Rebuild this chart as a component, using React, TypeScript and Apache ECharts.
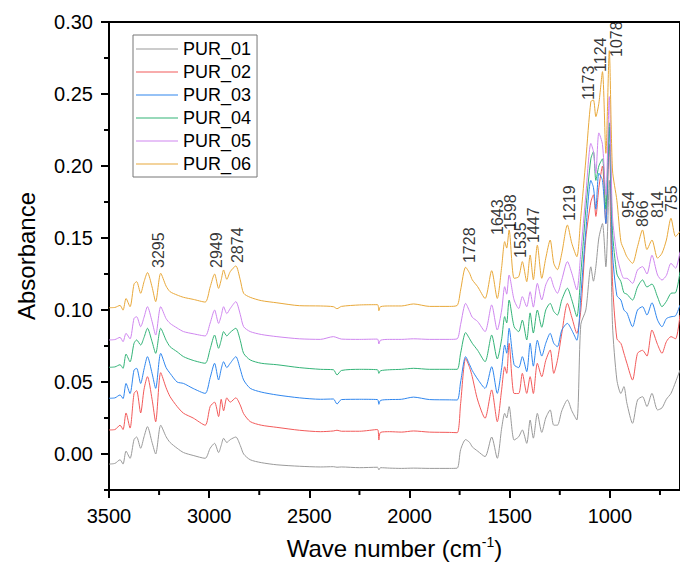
import React, { useEffect, useRef } from "react";
import * as echarts from "echarts";

// Wave numbers (cm-1) sampled along the spectra
const wavenumbers = [
  3500, 3470, 3445, 3430, 3415, 3395, 3375, 3362, 3342, 3325, 3308, 3285, 3267, 3242, 3215, 3195,
  3160, 3128, 3080, 3020, 2995, 2973, 2953, 2940, 2928, 2912, 2895, 2867, 2845, 2828, 2795, 2740,
  2662, 2550, 2445, 2380, 2362, 2340, 2250, 2160, 2153, 2145, 2100, 2040, 1980, 1900, 1800, 1762,
  1745, 1720, 1700, 1687, 1660, 1623, 1590, 1562, 1540, 1525, 1515, 1503, 1478, 1455, 1437, 1415,
  1398, 1382, 1362, 1340, 1320, 1298, 1280, 1262, 1240, 1212, 1190, 1165, 1145, 1120, 1095, 1082,
  1070, 1055, 1037, 1020, 1003, 987, 965, 945, 930, 915, 887, 862, 837, 815, 790, 762,
  740, 718, 695, 672, 650,
];

const pur01 = [
  -0.007, -0.0065, -0.004, -0.007, 0.002, -0.003, 0.01, 0.0118, 0.004, 0.012, 0.019, 0.008, 0.0, 0.02, 0.012, 0.008,
  0.004, 0.001, -0.001, -0.003, 0.004, 0.0074, 0.001, 0.006, 0.0109, 0.008, 0.01, 0.0118, 0.006, 0.0, -0.004, -0.006,
  -0.0075, -0.0085, -0.009, -0.0088, -0.0092, -0.009, -0.0095, -0.0092, -0.011, -0.0095, -0.0098, -0.01, -0.0098, -0.01, -0.01, -0.0098,
  0.003, 0.01, 0.008, 0.005, 0.002, -0.0018, 0.0118, -0.003, 0.018, 0.0282, 0.025, 0.0329, 0.0097, 0.012, 0.0167, 0.0074,
  0.0236, 0.011, 0.0282, 0.015, 0.025, 0.0306, 0.02, 0.02, 0.03, 0.0375, 0.03, 0.0236, 0.09, 0.1, 0.13, 0.12,
  0.13, 0.15, 0.16, 0.13, 0.19, 0.09, 0.0514, 0.042, 0.0468, 0.0352, 0.0213, 0.0375, 0.0398, 0.033, 0.0421, 0.0306,
  0.032, 0.038, 0.0421, 0.05, 0.0583,
];

const pur02 = [
  0.0167, 0.017, 0.02, 0.017, 0.0285, 0.018, 0.042, 0.044, 0.0285, 0.045, 0.0537, 0.038, 0.0224, 0.0565, 0.046, 0.0398,
  0.033, 0.0283, 0.025, 0.02, 0.033, 0.036, 0.026, 0.038, 0.03, 0.039, 0.036, 0.039, 0.034, 0.028, 0.0225, 0.02,
  0.0185, 0.0165, 0.0155, 0.016, 0.0165, 0.0158, 0.0158, 0.017, 0.0097, 0.015, 0.0155, 0.0152, 0.016, 0.0152, 0.015, 0.0148,
  0.035, 0.0664, 0.06, 0.0537, 0.0375, 0.0248, 0.0445, 0.0224, 0.045, 0.0606, 0.056, 0.0769, 0.042, 0.042, 0.056, 0.0421,
  0.0537, 0.042, 0.063, 0.0537, 0.065, 0.0722, 0.056, 0.065, 0.0838, 0.1046, 0.095, 0.0838, 0.1, 0.15, 0.175, 0.18,
  0.165, 0.185, 0.2, 0.16, 0.215, 0.12, 0.08, 0.0768, 0.07, 0.063, 0.0514, 0.0699, 0.072, 0.068, 0.0861, 0.076,
  0.0699, 0.078, 0.0815, 0.08, 0.0965,
];

const pur03 = [
  0.0387, 0.039, 0.041, 0.0385, 0.049, 0.042, 0.0583, 0.0595, 0.049, 0.059, 0.0676, 0.056, 0.0456, 0.0699, 0.06, 0.056,
  0.05, 0.049, 0.0455, 0.0421, 0.053, 0.063, 0.0514, 0.059, 0.0641, 0.06, 0.063, 0.0676, 0.059, 0.0514, 0.0456, 0.043,
  0.041, 0.039, 0.038, 0.0382, 0.0347, 0.0378, 0.038, 0.0378, 0.0345, 0.0372, 0.0378, 0.038, 0.0395, 0.0378, 0.0376, 0.0375,
  0.05, 0.0676, 0.062, 0.058, 0.052, 0.0456, 0.0606, 0.0421, 0.06, 0.0757, 0.07, 0.0873, 0.062, 0.06, 0.0676, 0.0572,
  0.0769, 0.061, 0.079, 0.068, 0.0769, 0.0838, 0.0769, 0.0745, 0.086, 0.0907, 0.086, 0.079, 0.11, 0.155, 0.19, 0.185,
  0.17, 0.195, 0.19, 0.16, 0.227, 0.14, 0.11, 0.1069, 0.1, 0.098, 0.0884, 0.1, 0.1023, 0.0965, 0.105, 0.093,
  0.0884, 0.094, 0.0953, 0.096, 0.1035,
];

const pur04 = [
  0.0602, 0.0605, 0.062, 0.0595, 0.0694, 0.064, 0.0769, 0.0792, 0.0757, 0.081, 0.0873, 0.078, 0.0699, 0.0873, 0.079, 0.0745,
  0.071, 0.0676, 0.065, 0.063, 0.073, 0.0826, 0.0734, 0.079, 0.085, 0.082, 0.0845, 0.0873, 0.079, 0.0699, 0.0653, 0.063,
  0.062, 0.06, 0.0588, 0.0585, 0.0549, 0.058, 0.0588, 0.0585, 0.056, 0.0578, 0.0585, 0.0588, 0.0595, 0.0588, 0.0588, 0.0588,
  0.07, 0.0843, 0.08, 0.0769, 0.072, 0.0641, 0.0826, 0.066, 0.08, 0.0954, 0.091, 0.1069, 0.0884, 0.085, 0.093, 0.0792,
  0.098, 0.084, 0.1, 0.088, 0.1, 0.1046, 0.099, 0.0965, 0.107, 0.1151, 0.107, 0.0954, 0.125, 0.17, 0.205, 0.21,
  0.19, 0.2, 0.205, 0.17, 0.23, 0.155, 0.125, 0.1197, 0.112, 0.111, 0.1069, 0.116, 0.1209, 0.116, 0.118, 0.109,
  0.1023, 0.106, 0.1116, 0.112, 0.1266,
];

const pur05 = [
  0.0792, 0.0795, 0.081, 0.078, 0.0838, 0.08, 0.0942, 0.0953, 0.0884, 0.095, 0.1023, 0.092, 0.0826, 0.1023, 0.094, 0.0907,
  0.0875, 0.085, 0.0835, 0.082, 0.091, 0.1, 0.0907, 0.096, 0.1023, 0.0975, 0.101, 0.1058, 0.097, 0.0884, 0.085, 0.083,
  0.0815, 0.08, 0.0796, 0.0815, 0.0808, 0.0798, 0.0796, 0.0798, 0.0764, 0.079, 0.0796, 0.0796, 0.08, 0.0796, 0.0796, 0.08,
  0.09, 0.1046, 0.099, 0.095, 0.092, 0.085, 0.1035, 0.0861, 0.1, 0.1162, 0.111, 0.1243, 0.107, 0.101, 0.1093, 0.1023,
  0.1127, 0.102, 0.1185, 0.107, 0.1175, 0.123, 0.116, 0.1116, 0.121, 0.1336, 0.1255, 0.1139, 0.14, 0.18, 0.2157, 0.21,
  0.195, 0.223, 0.215, 0.18, 0.2482, 0.165, 0.138, 0.1266, 0.122, 0.122, 0.1185, 0.1278, 0.1301, 0.125, 0.138, 0.1243,
  0.1208, 0.124, 0.1324, 0.129, 0.1405,
];

const pur06 = [
  0.1016, 0.1018, 0.1032, 0.0999, 0.108, 0.1023, 0.118, 0.1197, 0.1116, 0.1197, 0.126, 0.116, 0.1058, 0.1255, 0.1166, 0.1127,
  0.1104, 0.1088, 0.1074, 0.1055, 0.116, 0.125, 0.115, 0.121, 0.1278, 0.1213, 0.1266, 0.1306, 0.121, 0.1116, 0.1088, 0.1065,
  0.105, 0.103, 0.1028, 0.1023, 0.1009, 0.1025, 0.1035, 0.1037, 0.0995, 0.1023, 0.1028, 0.1028, 0.1042, 0.1025, 0.1025, 0.1032,
  0.1139, 0.1297, 0.1255, 0.121, 0.1162, 0.108, 0.1273, 0.108, 0.13, 0.1475, 0.143, 0.1556, 0.122, 0.1231, 0.1336, 0.1197,
  0.1382, 0.121, 0.145, 0.122, 0.136, 0.1486, 0.1324, 0.128, 0.1394, 0.159, 0.1463, 0.137, 0.1648, 0.2042, 0.2447, 0.2458,
  0.2343, 0.2435, 0.2655, 0.2088, 0.2801, 0.1972, 0.176, 0.1475, 0.142, 0.137, 0.1324, 0.144, 0.1556, 0.142, 0.1486, 0.136,
  0.1394, 0.1486, 0.1637, 0.151, 0.1546,
];

const seriesNames = ["PUR_01", "PUR_02", "PUR_03", "PUR_04", "PUR_05", "PUR_06"];
const seriesColors = ["#9a9a9a", "#f25a5a", "#2f86ee", "#33b377", "#cf86ef", "#e8a83a"];
const seriesValues = [pur01, pur02, pur03, pur04, pur05, pur06];

// Peak annotations: text, wave-number position, absorbance at the text's start
const peakLabels = ["3295", "2949", "2874", "1728", "1643", "1598", "1535", "1447", "1219", "1173", "1124", "1078", "954", "866", "814", "755"];
const peakLabelX = [3253, 2961, 2861, 1703, 1561, 1495, 1448, 1380, 1200, 1106, 1045, 965, 905, 836, 761, 690];
const peakLabelY = [0.1292, 0.1292, 0.1326, 0.1326, 0.1521, 0.1556, 0.1361, 0.1465, 0.1618, 0.2458, 0.2653, 0.2757, 0.1639, 0.1576, 0.1639, 0.168];

const xMajorTicks = [3500, 3000, 2500, 2000, 1500, 1000];
const xMinorTicks = [3250, 2750, 2250, 1750, 1250, 750];
const yMajorTicks = [0, 0.05, 0.1, 0.15, 0.2, 0.25, 0.3];
const yMinorTicks = [-0.025, 0.025, 0.075, 0.125, 0.175, 0.225, 0.275];

const X_MIN = 650;
const X_MAX = 3500;
const Y_MIN = -0.025;
const Y_MAX = 0.3;

const FONT = "'Liberation Sans', Arial, sans-serif";

export default function App() {
  const ref = useRef<HTMLDivElement>(null);

  useEffect(() => {
    if (!ref.current) return;
    const chart = echarts.init(ref.current, undefined, { renderer: "svg" });

    const lineSeries = seriesNames.map((name, k) => ({
      name,
      type: "line",
      symbol: "none",
      smooth: 0.25,
      lineStyle: { width: 1, color: seriesColors[k] },
      itemStyle: { color: seriesColors[k] },
      emphasis: { disabled: true },
      data: wavenumbers.map((w, i) => [w, seriesValues[k][i]]),
      z: 2 + k,
    }));

    const labelSeries = {
      name: "peaks",
      type: "scatter",
      symbolSize: 1,
      itemStyle: { color: "rgba(0,0,0,0)" },
      emphasis: { disabled: true },
      silent: true,
      z: 20,
      label: {
        show: true,
        position: "inside",
        rotate: 90,
        align: "left",
        verticalAlign: "middle",
        formatter: (p: any) => p.name,
        fontSize: 16,
        fontFamily: FONT,
        color: "#000",
      },
      data: peakLabels.map((t, i) => ({ name: t, value: [peakLabelX[i], peakLabelY[i]] })),
    };

    chart.setOption({
      animation: false,
      backgroundColor: "#fff",
      textStyle: { fontFamily: FONT },
      grid: {
        left: 109,
        right: 0,
        top: 22,
        bottom: 77,
        show: true,
        borderColor: "#000",
        borderWidth: 2,
        backgroundColor: "transparent",
        containLabel: false,
        outerBoundsMode: "none",
      },
      legend: {
        data: seriesNames,
        orient: "vertical",
        left: 133,
        top: 35,
        icon: "rect",
        itemWidth: 42,
        itemHeight: 1,
        itemGap: 5,
        padding: [5, 6, 4, 3],
        borderColor: "#777",
        borderWidth: 1,
        backgroundColor: "#fff",
        textStyle: { fontSize: 18, fontFamily: FONT, color: "#000", lineHeight: 18 },
        selectedMode: false,
      },
      xAxis: {
        type: "value",
        min: X_MIN,
        max: X_MAX,
        inverse: true,
        splitLine: { show: false },
        name: "{a|Wave number (cm}{b|-1}{a|)}",
        nameLocation: "middle",
        nameGap: 45,
        nameTextStyle: {
          rich: {
            a: { fontSize: 24, fontFamily: FONT, color: "#000" },
            b: { fontSize: 14, fontFamily: FONT, color: "#000", padding: [0, 0, 12, 0] },
          },
        },
        axisLine: { show: true, onZero: false, lineStyle: { color: "#000", width: 2 } },
        axisTick: { show: true, inside: false, length: 8, customValues: xMajorTicks, lineStyle: { color: "#000", width: 2 } },
        axisLabel: {
          show: true,
          margin: 16,
          fontSize: 20,
          fontFamily: FONT,
          color: "#000",
          customValues: xMajorTicks,
          formatter: (v: number) => String(Math.round(v)),
        },
      },
      yAxis: {
        type: "value",
        min: Y_MIN,
        max: Y_MAX,
        splitLine: { show: false },
        name: "Absorbance",
        nameLocation: "middle",
        nameGap: 71,
        nameTextStyle: { fontSize: 24, fontFamily: FONT, color: "#000" },
        axisLine: { show: true, onZero: false, lineStyle: { color: "#000", width: 2 } },
        axisTick: { show: true, inside: false, length: 8, customValues: yMajorTicks, lineStyle: { color: "#000", width: 2 } },
        axisLabel: {
          show: true,
          margin: 16,
          fontSize: 20,
          fontFamily: FONT,
          color: "#000",
          customValues: yMajorTicks,
          formatter: (v: number) => v.toFixed(2),
        },
      },
      series: [...lineSeries, labelSeries],
    });

    // Minor tick marks placed through the chart's own scales
    const bottomY = chart.convertToPixel({ yAxisIndex: 0 }, Y_MIN) as number;
    const leftX = chart.convertToPixel({ xAxisIndex: 0 }, X_MAX) as number;
    const ticks: any[] = [];
    xMinorTicks.forEach((v) => {
      const px = chart.convertToPixel({ xAxisIndex: 0 }, v) as number;
      ticks.push({
        type: "line",
        z: 50,
        shape: { x1: px, y1: bottomY, x2: px, y2: bottomY + 5 },
        style: { stroke: "#000", lineWidth: 2 },
      });
    });
    yMinorTicks.forEach((v) => {
      const py = chart.convertToPixel({ yAxisIndex: 0 }, v) as number;
      ticks.push({
        type: "line",
        z: 50,
        shape: { x1: leftX, y1: py, x2: leftX - 5, y2: py },
        style: { stroke: "#000", lineWidth: 2 },
      });
    });
    chart.setOption({ graphic: ticks });

    return () => chart.dispose();
  }, []);

  return (
    <div
      ref={ref}
      style={{ position: "fixed", left: 0, top: 0, width: 680, height: 567, background: "#fff" }}
    />
  );
}
